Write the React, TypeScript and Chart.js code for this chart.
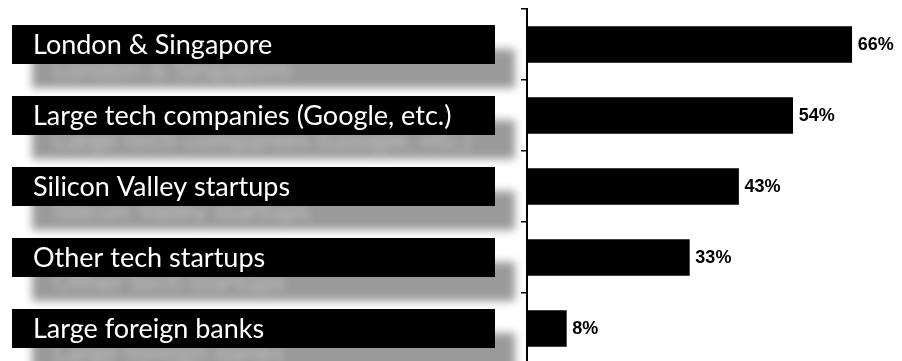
import React, { useEffect, useRef } from "react";
import { Chart, registerables } from "chart.js";

Chart.register(...registerables);

const categories = [
  "London & Singapore",
  "Large tech companies (Google, etc.)",
  "Silicon Valley startups",
  "Other tech startups",
  "Large foreign banks",
];
const values = [66, 54, 43, 33, 8];
const valueLabels = ["66%", "54%", "43%", "33%", "8%"];
const boundaryTicks = [-0.5, 0.5, 1.5, 2.5, 3.5];

export default function App() {
  const ref = useRef<HTMLCanvasElement>(null);

  useEffect(() => {
    document.body.style.margin = "0";
    const canvas = ref.current;
    if (!canvas) return;

    const labelPlugin = {
      id: "labelBoxes",
      afterDraw(chart: any) {
        const ctx = chart.ctx as CanvasRenderingContext2D;
        const yScale = chart.scales.y;
        const meta = chart.getDatasetMeta(0);
        const boxLeft = 12;
        const boxWidth = 483;
        const boxHeight = 39;
        const textX = 33;
        const labelFont = "27px Lato";
        ctx.save();
        // blurred shadows
        ctx.filter = "blur(4.5px)";
        ctx.textBaseline = "alphabetic";
        ctx.textAlign = "left";
        categories.forEach((c, i) => {
          const cy = yScale.getPixelForValue(i);
          ctx.fillStyle = "#9a9a9a";
          ctx.fillRect(boxLeft + 20, cy - boxHeight / 2 + 24, boxWidth, boxHeight);
          ctx.fillStyle = "#c0c0c0";
          ctx.font = labelFont;
          ctx.fillText(c, textX + 20, cy + 9.5 + 24);
        });
        ctx.filter = "none";
        categories.forEach((c, i) => {
          const cy = yScale.getPixelForValue(i);
          ctx.fillStyle = "#000";
          ctx.fillRect(boxLeft, cy - boxHeight / 2, boxWidth, boxHeight);
          ctx.fillStyle = "#fff";
          ctx.font = labelFont;
          ctx.fillText(c, textX, cy + 9.5);
        });
        // value labels
        ctx.font = "bold 18px 'Liberation Sans', Arial, sans-serif";
        ctx.fillStyle = "#000";
        ctx.textBaseline = "middle";
        meta.data.forEach((bar: any, i: number) => {
          ctx.fillText(valueLabels[i], bar.x + 6, bar.y + 1);
        });
        ctx.restore();
      },
    };

    const chart = new Chart(canvas, {
      type: "bar",
      data: {
        datasets: [
          {
            data: values.map((v, i) => ({ x: v, y: i })) as any,
            backgroundColor: "#000",
            borderWidth: 0,
            barThickness: 36,
          },
        ],
      },
      options: {
        indexAxis: "y",
        animation: false,
        responsive: false,
        devicePixelRatio: 1,
        layout: { padding: { left: 521, top: 9, right: 6, bottom: 0 } },
        plugins: { legend: { display: false }, tooltip: { enabled: false } },
        scales: {
          x: { type: "linear", min: 0, max: 75, display: false },
          y: {
            type: "linear",
            reverse: true,
            offset: false,
            min: -0.5,
            max: 4.458,
            afterBuildTicks: (s: any) => {
              s.ticks = boundaryTicks.map((v) => ({ value: v }));
            },
            afterFit: (s: any) => {
              s.width = 6;
            },
            ticks: { display: false },
            grid: {
              offset: false,
              drawOnChartArea: false,
              drawTicks: true,
              tickLength: 6,
              color: "#000",
              lineWidth: 1.5,
            },
            border: { color: "#000", width: 2 },
          },
        },
      },
      plugins: [labelPlugin],
    } as any);

    return () => chart.destroy();
  }, []);

  return (
    <div style={{ position: "absolute", left: 0, top: 0, width: 902, height: 361 }}>
      <canvas ref={ref} width={902} height={361} style={{ display: "block" }} />
    </div>
  );
}
